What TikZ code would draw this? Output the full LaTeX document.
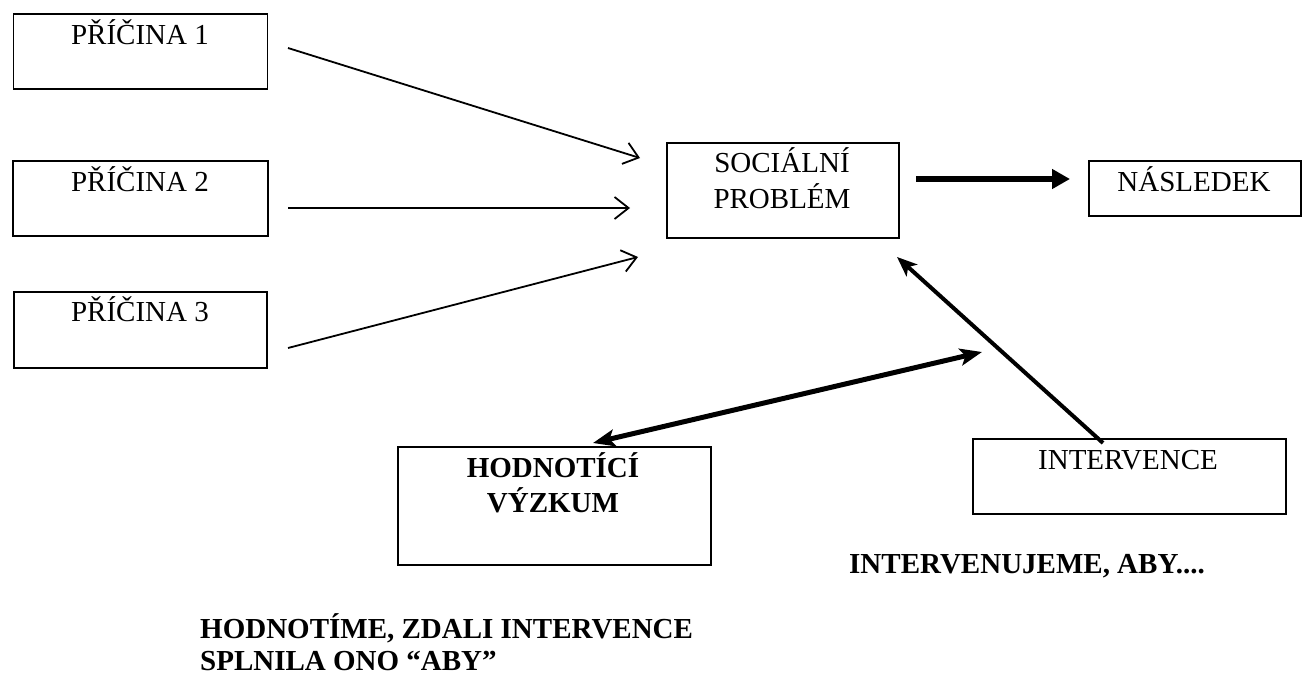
\documentclass[tikz,border=0pt]{standalone}
\usepackage{fontspec}
\setmainfont{Liberation Serif}
\usetikzlibrary{arrows.meta}
\begin{document}
\begin{tikzpicture}[x=1pt,y=-1pt,
  box/.style={draw,line width=1.6pt,inner sep=0pt,anchor=north west},
  lbl/.style={inner sep=0pt,anchor=base,font=\fontsize{29}{34}\selectfont},
  blbl/.style={inner sep=0pt,anchor=base,font=\fontsize{29}{34}\selectfont\bfseries},
  thinarrow/.style={line width=1.8pt,-{Straight Barb[length=14pt,width=22pt]}},
  fatarrow/.style={line width=6pt,-{Triangle[length=18pt,width=19pt]}},
  midarrow/.style={line width=4pt,-{Stealth[length=20pt,width=16pt,inset=5pt]}},
  dblarrow/.style={line width=5pt,{Stealth[length=22pt,width=17pt,inset=5pt]}-{Stealth[length=22pt,width=17pt,inset=5pt]}}
]
\useasboundingbox (0,0) rectangle (1307,676);
% boxes
\node[box,minimum width=254pt,minimum height=75pt] (p1box) at (12.7,13) {};
\node[box,minimum width=255pt,minimum height=75pt] (p2box) at (12,160) {};
\node[box,minimum width=253pt,minimum height=76pt] (p3box) at (13,291) {};
\node[box,minimum width=232pt,minimum height=95pt] (spbox) at (666,142) {};
\node[box,minimum width=212pt,minimum height=55pt] (nbox) at (1088,160) {};
\node[box,minimum width=313pt,minimum height=118pt] (hvbox) at (397,446) {};
\node[box,minimum width=313pt,minimum height=75pt] (ibox) at (972,438) {};
% box texts
\node[lbl] (p1t) at (140,45) {PŘÍČINA 1};
\node[lbl] (p2t) at (140,192) {PŘÍČINA 2};
\node[lbl] (p3t) at (140,322) {PŘÍČINA 3};
\node[lbl] (spt) at (782,173) {\begin{tabular}[t]{@{}c@{}}SOCIÁLNÍ\\PROBLÉM\end{tabular}};
\node[lbl] (nt) at (1194,192) {NÁSLEDEK};
\node[blbl] (hvt) at (553,477) {\begin{tabular}[t]{@{}c@{}}HODNOTÍCÍ\\VÝZKUM\end{tabular}};
\node[lbl] (it) at (1128,469) {INTERVENCE};
% free texts
\node[blbl,anchor=base west] (iaby) at (849,573) {INTERVENUJEME, ABY....};
\node[blbl,anchor=base west,font=\fontsize{29}{32}\selectfont\bfseries] (eval) at (200,638)
  {\begin{tabular}[t]{@{}l@{}}HODNOTÍME, ZDALI INTERVENCE\\SPLNILA ONO “ABY”\end{tabular}};
% arrow end points
\coordinate (a1s) at (288,48);  \coordinate (a1e) at (640,158);
\coordinate (a2s) at (288,208); \coordinate (a2e) at (630,208);
\coordinate (a3s) at (288,348); \coordinate (a3e) at (638,257);
\coordinate (ths) at (916,179); \coordinate (the) at (1070,179);
\coordinate (ivs) at (1103,443); \coordinate (ive) at (897,257);
\coordinate (dbl) at (593,443); \coordinate (dbr) at (982,352);
% arrows
\draw[thinarrow] (a1s) -- (a1e);
\draw[thinarrow] (a2s) -- (a2e);
\draw[thinarrow] (a3s) -- (a3e);
\draw[fatarrow] (ths) -- (the);
\draw[midarrow] (ivs) -- (ive);
\draw[dblarrow] (dbl) -- (dbr);
\end{tikzpicture}
\end{document}
